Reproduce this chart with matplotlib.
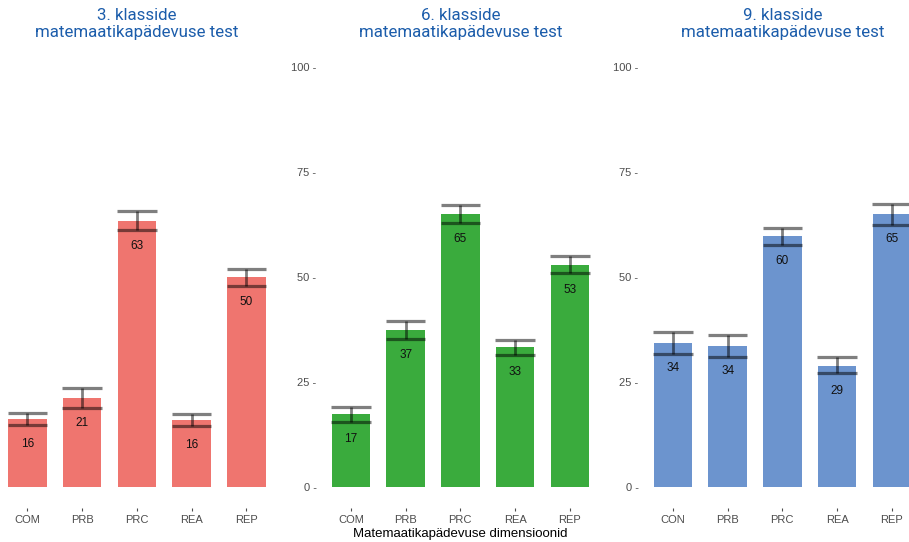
import matplotlib
matplotlib.use("Agg")
import matplotlib.pyplot as plt

# keskmised tulemused ja usaldusvahemikud klasside kaupa
dims_3 = ["COM", "PRB", "PRC", "REA", "REP"]
mean_3 = [16.2, 21.2, 63.3, 16.0, 50.0]
low_3 = [14.8, 18.8, 61.2, 14.6, 47.9]
high_3 = [17.6, 23.5, 65.6, 17.3, 51.9]

dims_6 = ["COM", "PRB", "PRC", "REA", "REP"]
mean_6 = [17.4, 37.4, 65.0, 33.3, 52.9]
low_6 = [15.5, 35.2, 62.9, 31.4, 50.9]
high_6 = [19.0, 39.6, 67.1, 35.1, 54.9]

dims_9 = ["CON", "PRB", "PRC", "REA", "REP"]
mean_9 = [34.3, 33.6, 59.8, 28.8, 65.0]
low_9 = [31.7, 31.0, 57.7, 27.1, 62.3]
high_9 = [36.8, 36.2, 61.7, 31.0, 67.5]

grades = ["3. klasside", "6. klasside", "9. klasside"]
subtitle = "matemaatikapädevuse test"
colors = ["#EF756F", "#3AAB3D", "#6C94CE"]
yticks = [0, 25, 50, 75, 100]

W, H = 909, 542
fig = plt.figure(figsize=(W / 100, H / 100), dpi=100)

panel_left = [-5.5, 318, 640]
panel_w = 284.7
panel_top, panel_bottom = 46, 508

panels = [(dims_3, mean_3, low_3, high_3),
          (dims_6, mean_6, low_6, high_6),
          (dims_9, mean_9, low_9, high_9)]

for i, (dims, means, low, high) in enumerate(panels):
    ax = fig.add_axes([panel_left[i] / W, 1 - panel_bottom / H,
                       panel_w / W, (panel_bottom - panel_top) / H])
    x = list(range(1, len(dims) + 1))
    ax.bar(x, means, width=0.7, color=colors[i], zorder=1)
    ax.vlines(x, low, high, color="black", alpha=0.5, lw=2.0, zorder=2)
    ax.hlines(low, [p - 0.36 for p in x], [p + 0.36 for p in x],
              color="black", alpha=0.5, lw=2.3, zorder=2)
    ax.hlines(high, [p - 0.36 for p in x], [p + 0.36 for p in x],
              color="black", alpha=0.5, lw=2.3, zorder=2)
    for xi, m in zip(x, means):
        ax.annotate(f"{m:.0f}", (xi, m), xytext=(0, -18), textcoords="offset points",
                    ha="center", va="center", fontsize=8.5, color="#111111",
                    family="Liberation Sans", zorder=3)
    ax.set_xlim(0.4, 5.6)
    ax.set_ylim(-5, 105)
    ax.set_xticks(x)
    ax.set_xticklabels(dims, family="Liberation Sans", fontsize=8, color="#4D4D4D")
    ax.tick_params(axis="x", length=2.5, width=0.8, color="#4D4D4D", pad=2.5)
    if i == 0:
        ax.set_yticks([])
    else:
        ax.set_yticks(yticks)
        ax.set_yticklabels([f"{t} -" for t in yticks], family="Liberation Sans",
                           fontsize=8, color="#4D4D4D")
        ax.tick_params(axis="y", length=0, pad=1)
    for s in ax.spines.values():
        s.set_visible(False)

    # pealkiri kahel real paneeli kohal
    cx = (panel_left[i] + panel_w / 2) / W
    fig.text(cx, 1 - 15 / H, grades[i], ha="center", va="center", fontsize=12.2,
             color="#1C5DAB", family="Roboto")
    fig.text(cx, 1 - 33 / H, subtitle, ha="center", va="center", fontsize=12.2,
             color="#1C5DAB", family="Roboto")

    if i == 1:
        fig.text(cx, 1 - 534.5 / H, "Matemaatikapädevuse dimensioonid", ha="center",
                 va="center", fontsize=9.5, family="Liberation Sans", color="black")

fig.savefig("out.png", dpi=100)
